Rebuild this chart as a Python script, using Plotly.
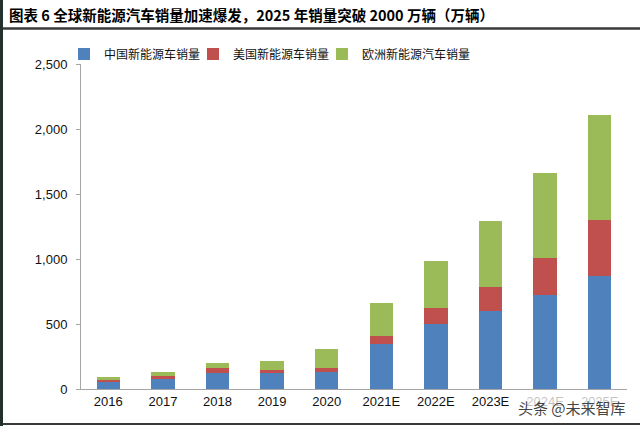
import plotly.graph_objects as go

years = ["2016", "2017", "2018", "2019", "2020", "2021E", "2022E", "2023E", "2024E", "2025E"]
china = [51, 77, 125, 120, 133, 345, 500, 600, 725, 870]
usa = [16, 20, 36, 30, 31, 62, 122, 186, 283, 427]
europe = [25, 33, 42, 62, 140, 257, 363, 506, 651, 808]

names = ["中国新能源车销量", "美国新能源车销量", "欧洲新能源汽车销量"]
colors = ["#4F81BD", "#C0504D", "#9BBB59"]
title_text = "图表 6 全球新能源汽车销量加速爆发，2025 年销量突破 2000 万辆（万辆）"
watermark = "头条 @未来智库"

W, H = 640, 426
L, R, T, B = 81, 13, 64, 37
pw, ph = W - L - R, H - T - B

def px_x(p):
    return (p - L) / pw

def px_y(p):
    return (H - B - p) / ph

cjk = "Noto Sans CJK SC"
lat = "Liberation Sans, Arial, sans-serif"

fig = go.Figure()
legend_ids = ["legend", "legend2", "legend3"]
legend_text_x = [104, 233, 362]
for vals, nm, c, lg in zip([china, usa, europe], names, colors, legend_ids):
    fig.add_trace(go.Bar(x=years, y=vals, name=nm, marker=dict(color=c, line=dict(width=0)),
                         width=0.43, legend=lg))

legend_common = dict(orientation="h", xanchor="left", yanchor="middle", y=px_y(54),
                     font=dict(family=cjk, size=12, color="#111"), bgcolor="rgba(0,0,0,0)",
                     borderwidth=0, itemwidth=30)
legends = {}
for lg, tx in zip(legend_ids, legend_text_x):
    d = dict(legend_common)
    d["x"] = px_x(tx - 40)
    legends[lg] = d

fig.update_layout(
    width=W, height=H,
    margin=dict(l=L, r=R, t=T, b=B),
    barmode="stack",
    paper_bgcolor="white", plot_bgcolor="white",
    showlegend=True,
    xaxis=dict(showline=True, linecolor="#A6A6A6", linewidth=1, ticks="", showgrid=False,
               tickfont=dict(family=lat, size=13, color="#111"), range=[-0.5, 9.5]),
    yaxis=dict(range=[0, 2500], tickvals=[0, 500, 1000, 1500, 2000, 2500], tickformat=",",
               showline=True, linecolor="#A6A6A6", linewidth=1, ticks="outside", ticklen=4,
               tickcolor="#A6A6A6", showgrid=False, zeroline=False,
               tickfont=dict(family=lat, size=13, color="#111"), ticklabelstandoff=6),
    font=dict(family=cjk),
    **legends,
)

shapes = [
    dict(type="rect", xref="paper", yref="paper", x0=px_x(0), x1=px_x(3), y0=px_y(426), y1=px_y(0),
         fillcolor="#22302E", line=dict(width=0), layer="above"),
    dict(type="line", xref="paper", yref="paper", x0=px_x(3), x1=px_x(640), y0=px_y(28.5), y1=px_y(28.5),
         line=dict(color="#3A3A3A", width=2.5)),
    dict(type="line", xref="paper", yref="paper", x0=px_x(3), x1=px_x(640), y0=px_y(424), y1=px_y(424),
         line=dict(color="#3A3A3A", width=2)),
]
fig.update_layout(shapes=shapes)

fig.add_annotation(text="<b>" + title_text + "</b>", xref="paper", yref="paper",
                   x=px_x(7), y=px_y(14), xanchor="left", yanchor="middle", showarrow=False,
                   font=dict(family=cjk, size=14.5, color="#000"))
fig.add_annotation(text=watermark, xref="paper", yref="paper",
                   x=px_x(628), y=px_y(407), xanchor="right", yanchor="middle", showarrow=False,
                   font=dict(family=cjk, size=15, color="#444"), bgcolor="rgba(255,255,255,0.75)")

fig.write_html("out.html", config={"displayModeBar": False},
               post_script="document.body.style.margin='0';document.body.style.padding='0';")
